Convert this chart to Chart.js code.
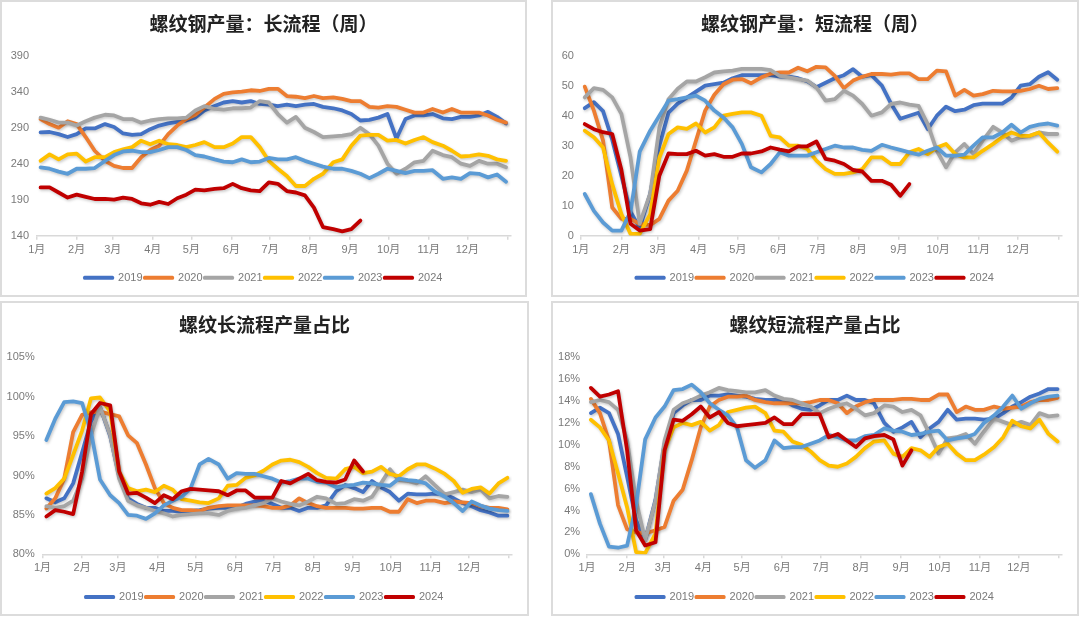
<!DOCTYPE html>
<html><head><meta charset="utf-8">
<script src="https://cdn.jsdelivr.net/npm/chart.js@4/dist/chart.umd.min.js"></script>
<style>
html,body{margin:0;padding:0;background:#fff;}
body{width:1080px;height:617px;position:relative;overflow:hidden;}
.box{position:absolute;}
.frame{position:absolute;box-sizing:border-box;border:2px solid #dcdcdc;pointer-events:none;}
canvas{position:absolute;left:0;top:0;}
</style></head>
<body>
<div class="box" style="left:0;top:0;width:527px;height:297px"><canvas id="c1" width="527" height="297"></canvas><div class="frame" style="left:0;top:0;width:527px;height:297px"></div></div>
<div class="box" style="left:551px;top:0;width:528px;height:297px"><canvas id="c2" width="528" height="297"></canvas><div class="frame" style="left:0;top:0;width:528px;height:297px"></div></div>
<div class="box" style="left:0;top:301px;width:529px;height:315px"><canvas id="c3" width="529" height="315"></canvas><div class="frame" style="left:0;top:0;width:529px;height:315px"></div></div>
<div class="box" style="left:551px;top:301px;width:528px;height:315px"><canvas id="c4" width="528" height="315"></canvas><div class="frame" style="left:0;top:0;width:528px;height:315px"></div></div>
<script>
// ---- data ----
const years = ['2019','2020','2021','2022','2023','2024'];
const colors = ['#4472C4','#ED7D31','#A5A5A5','#FFC000','#5B9BD5','#C00000'];
const monthStarts = [0,31,59,90,120,151,181,212,243,273,304,334,365];
const monthLabels = ['1月','2月','3月','4月','5月','6月','7月','8月','9月','10月','11月','12月',''];
// day of year of each weekly observation
const weekDays = [3,10,17,24,31,38,45,53,60,67,74,81,88,95,102,109,116,123,130,138,145,152,159,166,173,180,187,194,201,208,215,222,230,237,244,251,258,265,272,279,286,293,300,307,315,322,329,336,343,350,357,364];

// 螺纹钢产量：长流程（周）
const long2019 = [283.5,284,281,277,281,289,289,295,291,282,280,281,288,293,296,298,300,304,314,320,325,327,325,327,323,322,320,322,320,322,323,319,317,314,309,300,301,304,309,275,302,307,307,309,303,302,305,305,307,312,305,296];
const long2020 = [302,295,290,299,295,277,258,244,237,234,234,249,259,265,281,293,302,308,318,330,337,339,340,342,341,344,344,334,333,331,334,331,332,330,327,327,319,318,320,319,315,311,311,316,311,316,311,311,311,307,301,297];
const long2021 = [304,301,297,297,293,299,304,308,307,302,302,297,300,302,303,303,304,314,320,316,315,317,317,318,327,325,309,297,305,290,284,277,278,279,281,290,281,265,240,226,233,242,244,258,252,249,240,237,244,240,240,235];
const long2022 = [244,253,246,253,254,243,249,249,256,260,263,272,267,272,267,266,263,266,270,263,263,268,277,277,263,244,233,223,209,209,219,226,242,246,265,279,280,280,272,273,268,273,277,270,265,258,250,251,253,251,246,244];
const long2023 = [235,233,229,226,233,233,234,244,252,257,258,256,256,259,263,263,259,252,250,246,243,242,246,242,243,248,246,246,249,244,240,236,233,233,230,226,220,226,233,230,227,230,230,231,219,221,219,227,226,221,225,215];
const long2024 = [207,207,200,193,197,194,191,191,190,193,191,185,183,187,184,192,197,204,203,205,206,212,206,203,202,214,212,202,200,196,179,152,149,146,149,161];

// 螺纹钢产量：短流程（周）
const short2019 = [42.5,44.5,41.5,32,20,8,2.5,14,30,41,44,46,48,50,50.5,51,52.5,53.5,53.5,53.5,53.5,53,53,52.5,51.5,49.5,51,52.5,53.5,55.5,53,53.5,50,44,39,40,41,35.5,40,43,41.5,42,43.5,44,44,44,46,50,50.5,53,54.5,52];
const short2020 = [49.7,41.7,31.7,9.4,5.6,5.6,3.9,3.5,5.6,11.7,15,21.7,31.7,41.7,47,50.5,52,52.2,50.8,52.8,54,54.4,54.4,56,54.8,56.3,56.1,53.3,49.2,51.7,53,53.9,53.9,53.7,54.1,54.1,52.2,52.2,55,54.8,46.7,48.6,46.7,47.2,48.3,48.1,48.1,48.3,48.9,50,48.9,49.2];
const short2021 = [46.1,49.2,48.6,46.1,40.6,26,4,14,36,45.5,49,51.4,51.4,52.8,54.4,54.8,55,55.6,55.6,55.6,55.2,53.3,52.8,52.2,51.7,49.4,45,45.5,48.3,46.7,43.9,40,41.1,43.9,44.4,43.7,43.3,37.2,28.3,22.8,27.8,30.6,27.2,31.7,36.3,34.4,31.7,32.8,33.3,34.4,33.9,33.9];
const short2022 = [35,32.8,29.4,17.2,7.2,0.6,0.6,7.2,26,33.9,36.1,35.6,37.4,34.4,36.1,40,40.6,41.1,41.1,40,33.3,32.8,30,30,28.9,25,22.2,20.6,20.6,21.1,22.2,26.1,26.1,23.9,23.9,27.8,28.9,27.2,29.4,30.6,27.2,26.1,26.1,28.3,30.6,32.8,34.4,33.3,33.3,34.4,31,28];
const short2023 = [13.9,8.3,4.4,1.7,1.7,8,28,35,40,45,45.5,46.1,46.7,45,41.7,39.4,36.1,30.6,22.8,21.1,23.9,27.8,26.7,26.7,26.7,27.8,28.9,30,29.4,29.4,28.6,28.3,30.3,29.4,28.6,27.8,27,28.3,29.4,26.7,26.7,27,30,32.8,32.8,34.4,37,34.4,36.3,37,37.4,36.7];
const short2024 = [37.2,35.5,34.5,33.9,22,4,1.7,2.2,20,27.4,27.2,27.2,28.3,26.7,27.2,26.3,26.3,27.4,27.4,28.1,29.4,28.7,28.1,29.8,29.8,31.4,25.6,25,23.9,21.9,21.4,18.3,18.3,17,13.3,17.2];

// 螺纹长流程产量占比 (%)
const longShare2019 = [87.1,86.6,87.1,89,92.9,96.9,98.7,95,89.9,87.1,86.4,85.9,85.9,85.5,85.5,85.4,85.5,85.6,85.8,85.9,85.9,85.9,86.4,86.7,86.8,86.4,85.9,85.9,85.5,85.9,85.9,86.2,88,88.8,88.4,87.9,89.3,88.5,87.9,86.8,87.7,87.6,87.6,87.7,87.6,87.1,86.5,86.1,85.6,85.3,84.9,84.9];
const longShare2020 = [85.8,87.1,89.6,95.5,97.7,98,98.1,97.8,97.5,95.1,94.1,91.4,88.4,86.5,85.9,85.6,85.6,85.5,85.9,86.1,86.2,86.2,86.2,86.2,86.1,85.9,85.9,86.2,87.1,86.5,86.1,85.9,85.9,85.9,85.8,85.8,85.9,85.9,85.4,85.4,87,86.5,86.8,86.8,86.5,86.7,86.6,86.5,86.1,85.9,85.9,85.7];
const longShare2021 = [86.1,85.9,86.1,86.8,89.6,95.1,98.7,95.1,89.6,86.8,86.2,85.9,85.5,85.2,84.8,85,85.1,85.2,85.2,85,85.5,85.8,85.9,86.2,86.5,87.1,86.7,86.4,86.2,86.7,87.3,87.1,86.4,86.5,87,86.8,87.3,89,90.8,89.4,89.3,89,89.9,88.8,87.6,87.9,88.2,87.9,88.2,87.1,87.4,87.3];
const longShare2022 = [87.7,88.4,89.6,92.6,95.7,99.8,99.9,98.1,90.5,88.4,88,88.2,87.9,88.7,88.2,87,86.8,86.6,86.5,87.1,88.7,88.8,89.7,90,90.6,91.4,91.9,92,91.7,91.1,90.3,89.7,89.6,90.8,91.1,90.3,90.5,91.1,90.2,89.9,90.8,91.4,91.4,90.9,90.2,89.3,87.8,88.3,88.5,87.7,89,89.7];
const longShare2023 = [94.5,97.2,99.3,99.4,99.2,95.5,89.5,87.5,86.5,85,84.9,84.5,85.2,86.2,86.8,87.3,88.4,91.4,92.1,91.4,89.6,90.3,90.2,90.2,89.9,89.6,89.1,89.3,89.6,89.6,89.2,89.1,88.5,88.7,88.8,89.1,89,88.8,88.7,89.6,89.4,89.3,89,88,87.3,86.5,85.5,86.7,86.2,85.8,85.6,85.5];
const longShare2024 = [84.8,85.6,85.4,85.1,90.5,97.8,99.2,98.9,90.5,87.7,87.8,87.2,86.5,87.5,87,88,88.3,88.2,88.1,88,87.5,88.1,88.1,87.2,87.2,87.2,89.3,89,89.6,90.2,89.4,89.2,89.1,89.5,91.9,90.5];

// 螺纹短流程产量占比 (%)
const shortShare2019 = [12.9,13.4,12.9,11,7.1,3.1,1.3,5,10.1,12.9,13.6,14.1,14.1,14.5,14.5,14.6,14.5,14.4,14.2,14.1,14.1,14.1,13.6,13.3,13.2,13.6,14.1,14.1,14.5,14.1,14.1,13.8,12,11.2,11.6,12.1,10.7,11.5,12.1,13.2,12.3,12.4,12.4,12.3,12.4,12.9,13.5,13.9,14.4,14.7,15.1,15.1];
const shortShare2020 = [14.2,12.9,10.4,4.5,2.3,2,1.9,2.2,2.5,4.9,5.9,8.6,11.6,13.5,14.1,14.4,14.4,14.5,14.1,13.9,13.8,13.8,13.8,13.8,13.9,14.1,14.1,13.8,12.9,13.5,13.9,14.1,14.1,14.1,14.2,14.2,14.1,14.1,14.6,14.6,13,13.5,13.2,13.2,13.5,13.3,13.4,13.5,13.9,14.1,14.1,14.3];
const shortShare2021 = [13.9,14.1,13.9,13.2,10.4,4.9,1.3,4.9,10.4,13.2,13.8,14.1,14.5,14.8,15.2,15,14.9,14.8,14.8,15,14.5,14.2,14.1,13.8,13.5,12.9,13.3,13.6,13.8,13.3,12.7,12.9,13.6,13.5,13,13.2,12.7,11,9.2,10.6,10.7,11,10.1,11.2,12.4,12.1,11.8,12.1,11.8,12.9,12.6,12.7];
const shortShare2022 = [12.3,11.6,10.4,7.4,4.3,0.2,0.1,1.9,9.5,11.6,12,11.8,12.1,11.3,11.8,13,13.2,13.4,13.5,12.9,11.3,11.2,10.3,10,9.4,8.6,8.1,8,8.3,8.9,9.7,10.3,10.4,9.2,8.9,9.7,9.5,8.9,9.8,10.1,9.2,8.6,8.6,9.1,9.8,10.7,12.2,11.7,11.5,12.3,11,10.3];
const shortShare2023 = [5.5,2.8,0.7,0.6,0.8,4.5,10.5,12.5,13.5,15,15.1,15.5,14.8,13.8,13.2,12.7,11.6,8.6,7.9,8.6,10.4,9.7,9.8,9.8,10.1,10.4,10.9,10.7,10.4,10.4,10.8,10.9,11.5,11.3,11.2,10.9,11,11.2,11.3,10.4,10.6,10.7,11,12,12.7,13.5,14.5,13.3,13.8,14.2,14.4,14.5];
const shortShare2024 = [15.2,14.4,14.6,14.9,9.5,2.2,0.8,1.1,9.5,12.3,12.2,12.8,13.5,12.5,13,12,11.7,11.8,11.9,12,12.5,11.9,11.9,12.8,12.8,12.8,10.7,11,10.4,9.8,10.6,10.8,10.9,10.5,8.1,9.5];

// ---- charts ----
const tickFont = {size: 11, family: '"Liberation Sans", "Noto Sans CJK SC", sans-serif'};
const grayText = '#7a7a7a';

const shadowPlugin = {
  id: 'lineShadow',
  beforeDatasetDraw(chart) {
    const c = chart.ctx; c.save();
    c.shadowColor = 'rgba(0,0,0,0.22)'; c.shadowBlur = 3; c.shadowOffsetX = 1; c.shadowOffsetY = 1.5;
  },
  afterDatasetDraw(chart) { chart.ctx.restore(); }
};

function makeChart(id, title, series, yMin, yMax, yStep, isPct, L) {
  const datasets = series.map((arr, i) => ({
    label: years[i],
    data: arr.map((v, k) => ({x: weekDays[k], y: v})),
    borderColor: colors[i],
    backgroundColor: colors[i],
    borderWidth: 3.8,
    borderJoinStyle: 'round',
    borderCapStyle: 'round',
    pointRadius: 0,
    pointHoverRadius: 0,
    tension: 0,
    fill: false,
    order: series.length - 1 - i
  }));
  return new Chart(document.getElementById(id), {
    type: 'line',
    data: {datasets},
    plugins: [shadowPlugin],
    options: {
      responsive: false,
      animation: false,
      devicePixelRatio: 1,
      layout: {padding: {left: 0, right: 0, top: 0, bottom: L.pb}},
      plugins: {
        tooltip: {enabled: false},
        title: {
          display: true, text: title, color: '#222',
          font: {size: 19, weight: 'bold', family: '"Noto Sans CJK SC", sans-serif'},
          padding: {top: L.tt, bottom: L.tb}
        },
        legend: {
          display: true, position: 'bottom',
          labels: {
            boxWidth: 28, boxHeight: 1, padding: 2, color: grayText, font: tickFont,
            generateLabels: (chart) => chart.data.datasets.map((ds, i) => ({
              text: ds.label, fillStyle: ds.borderColor, strokeStyle: ds.borderColor,
              lineWidth: 3, lineJoin: 'round', lineCap: 'round', hidden: false,
              datasetIndex: i, fontColor: grayText
            }))
          }
        }
      },
      scales: {
        x: {
          type: 'linear', min: 0, max: 367.6,
          afterBuildTicks: (s) => { s.ticks = monthStarts.map(v => ({value: v})); },
          afterFit: (s) => { s.height = L.xh; },
          grid: {display: true, drawOnChartArea: false, drawTicks: true, tickLength: 4, color: '#d9d9d9', lineWidth: 1.5},
          border: {display: true, color: '#d9d9d9', width: 1.5},
          ticks: {
            autoSkip: false, maxRotation: 0, minRotation: 0, padding: L.xp,
            color: grayText, font: tickFont,
            callback: (v, i) => monthLabels[i] !== undefined ? monthLabels[i] : ''
          }
        },
        y: {
          type: 'linear', position: 'left', min: yMin, max: yMax,
          afterFit: (s) => { s.width = L.yw; },
          grid: {display: false, drawTicks: false},
          border: {display: false},
          ticks: {
            stepSize: yStep, padding: L.yp, color: grayText, font: tickFont,
            callback: (v) => isPct ? v + '%' : String(v)
          }
        },
        yr: {
          type: 'linear', position: 'right', display: true,
          afterFit: (s) => { s.width = L.rw; },
          grid: {display: false, drawTicks: false},
          border: {display: false},
          ticks: {display: false}
        }
      }
    }
  });
}

const topL = {pb: 3.8, tt: 11.9, tb: 21.0, xh: 34.5, xp: 3.2};
const botL = {pb: 3.5, tt: 12.6, tb: 20.9, xh: 35.2, xp: 3.4};

makeChart('c1', '螺纹钢产量：长流程（周）',
  [long2019, long2020, long2021, long2022, long2023, long2024], 140, 390, 50, false,
  Object.assign({yw: 36.7, rw: 16.3, yp: 7.7}, topL));
makeChart('c2', '螺纹钢产量：短流程（周）',
  [short2019, short2020, short2021, short2022, short2023, short2024], 0, 60, 10, false,
  Object.assign({yw: 29.8, rw: 17, yp: 6.9}, topL));
makeChart('c3', '螺纹长流程产量占比',
  [longShare2019, longShare2020, longShare2021, longShare2022, longShare2023, longShare2024], 80, 105, 5, true,
  Object.assign({yw: 42.5, rw: 17, yp: 7.8}, botL));
makeChart('c4', '螺纹短流程产量占比',
  [shortShare2019, shortShare2020, shortShare2021, shortShare2022, shortShare2023, shortShare2024], 0, 18, 2, true,
  Object.assign({yw: 36, rw: 16.8, yp: 6.9}, botL));
</script>
</body></html>
